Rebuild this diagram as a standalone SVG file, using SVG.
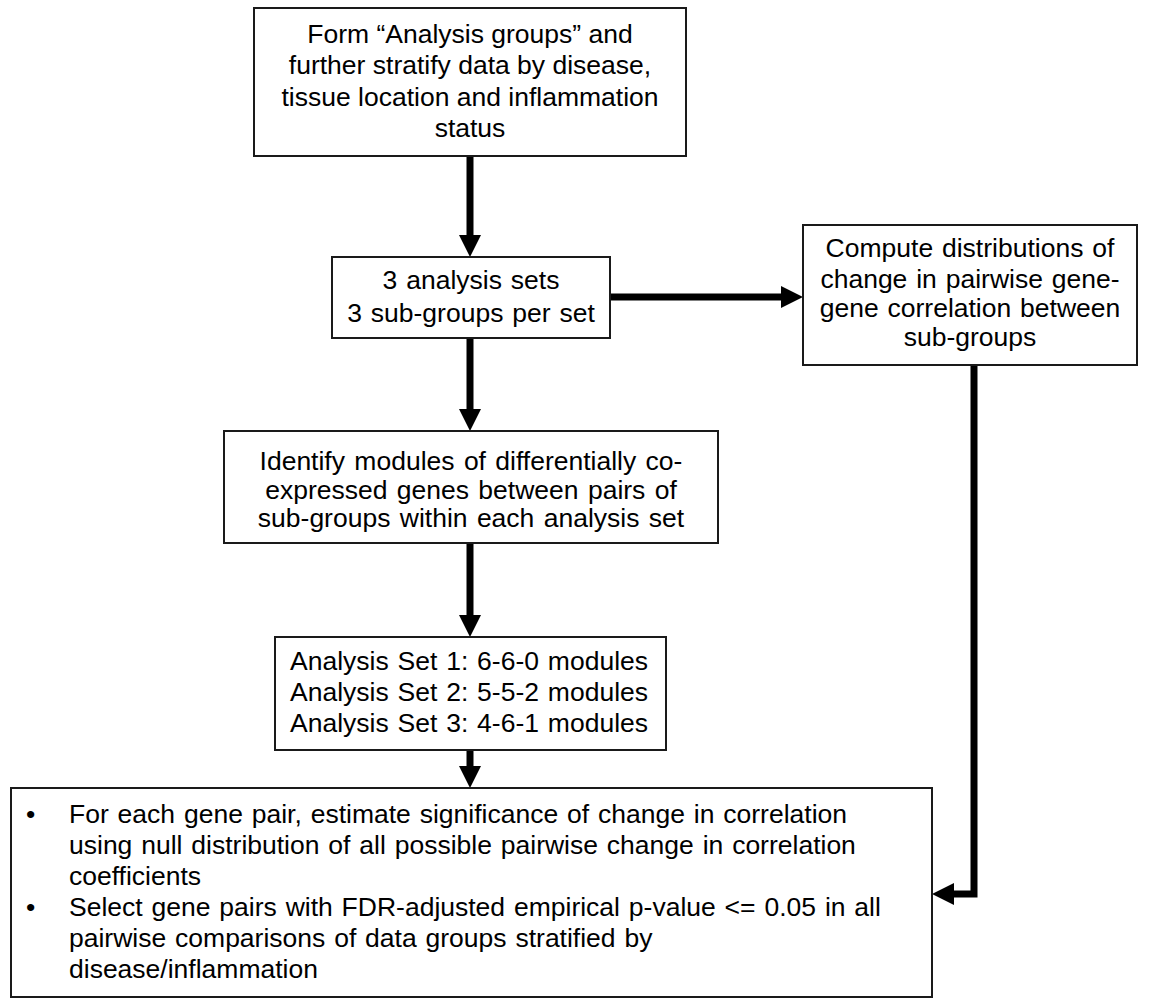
<svg xmlns="http://www.w3.org/2000/svg" width="1152" height="1000" viewBox="0 0 1152 1000">
  <style>
    .box { fill: #ffffff; stroke: #1a1a1a; stroke-width: 2; }
    .t { font-family: "Liberation Sans", Arial, sans-serif; font-size: 26.5px; fill: #000000; }
    .c { text-anchor: middle; }
    .ws { word-spacing: 1.5px; }
    .ws2 { word-spacing: 2px; }
    .conn { fill: none; stroke: #000000; stroke-width: 7; }
  </style>
  <defs>
    <marker id="arrow" markerUnits="userSpaceOnUse" markerWidth="22" markerHeight="22" refX="0" refY="11" orient="auto" overflow="visible">
      <path d="M0,0 L22,11 L0,22 Z" fill="#000000"/>
    </marker>
  </defs>
  <rect width="1152" height="1000" fill="#ffffff"/>

  <g id="connectors">
    <line class="conn" x1="470" y1="156" x2="470" y2="235" marker-end="url(#arrow)"/>
    <line class="conn" x1="610" y1="297" x2="781" y2="297" marker-end="url(#arrow)"/>
    <line class="conn" x1="470" y1="338" x2="470" y2="409" marker-end="url(#arrow)"/>
    <line class="conn" x1="470" y1="543" x2="470" y2="615" marker-end="url(#arrow)"/>
    <line class="conn" x1="470" y1="750" x2="470" y2="766" marker-end="url(#arrow)"/>
    <polyline class="conn" points="974,365 974,894 954,894" marker-end="url(#arrow)"/>
  </g>

  <g id="node-form-groups">
    <rect class="box" x="254" y="8" width="432" height="148"/>
    <text class="t c" x="470" y="43">Form “Analysis groups” and</text>
    <text class="t c" x="470" y="74">further stratify data by disease,</text>
    <text class="t c" x="470" y="106">tissue location and inflammation</text>
    <text class="t c" x="470" y="137">status</text>
  </g>

  <g id="node-analysis-sets">
    <rect class="box" x="332" y="257" width="278" height="81"/>
    <text class="t c ws" x="471" y="289">3 analysis sets</text>
    <text class="t c ws" x="471" y="322">3 sub-groups per set</text>
  </g>

  <g id="node-compute-distributions">
    <rect class="box" x="803" y="225" width="334" height="140"/>
    <text class="t c ws" x="970" y="257">Compute distributions of</text>
    <text class="t c ws" x="970" y="288">change in pairwise gene-</text>
    <text class="t c ws" x="970" y="317">gene correlation between</text>
    <text class="t c ws" x="970" y="346">sub-groups</text>
  </g>

  <g id="node-identify-modules">
    <rect class="box" x="224" y="431" width="494" height="112"/>
    <text class="t c ws2" x="471" y="470">Identify modules of differentially co-</text>
    <text class="t c ws2" x="471" y="499">expressed genes between pairs of</text>
    <text class="t c ws2" x="471" y="527">sub-groups within each analysis set</text>
  </g>

  <g id="node-module-counts">
    <rect class="box" x="275" y="637" width="391" height="113"/>
    <text class="t c ws" x="469" y="670">Analysis Set 1: 6-6-0 modules</text>
    <text class="t c ws" x="469" y="701">Analysis Set 2: 5-5-2 modules</text>
    <text class="t c ws" x="469" y="732">Analysis Set 3: 4-6-1 modules</text>
  </g>

  <g id="node-significance">
    <rect class="box" x="11" y="788" width="921" height="209"/>
    <text class="t" x="26" y="823">•</text>
    <text class="t ws" x="69" y="823">For each gene pair, estimate significance of change in correlation</text>
    <text class="t ws" x="69" y="854">using null distribution of all possible pairwise change in correlation</text>
    <text class="t ws" x="69" y="885">coefficients</text>
    <text class="t" x="26" y="916">•</text>
    <text class="t ws" x="69" y="916">Select gene pairs with FDR-adjusted empirical p-value &lt;= 0.05 in all</text>
    <text class="t ws" x="69" y="947">pairwise comparisons of data groups stratified by</text>
    <text class="t ws" x="69" y="978">disease/inflammation</text>
  </g>
</svg>
